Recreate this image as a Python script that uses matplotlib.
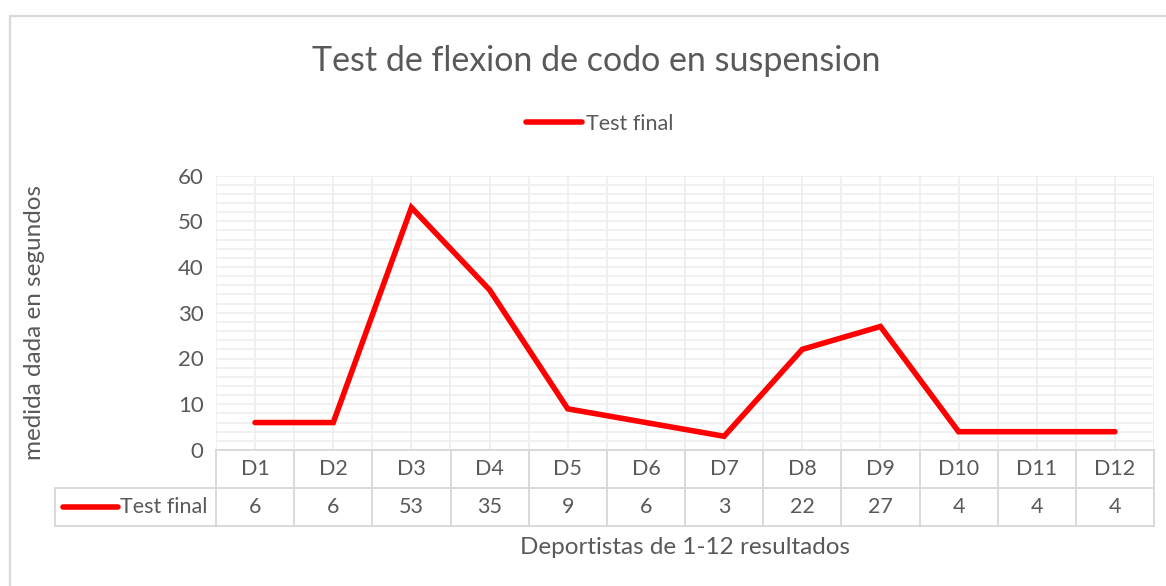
import matplotlib
matplotlib.use('Agg')
import matplotlib.pyplot as plt
from matplotlib.lines import Line2D
from matplotlib.patches import Rectangle

# data
deportistas = ['D1', 'D2', 'D3', 'D4', 'D5', 'D6', 'D7', 'D8', 'D9', 'D10', 'D11', 'D12']
test_final = [6, 6, 53, 35, 9, 6, 3, 22, 27, 4, 4, 4]
yticks = [0, 10, 20, 30, 40, 50, 60]

plt.rcParams['font.family'] = ['Lato', 'DejaVu Sans']
txt = '#595959'
grid = '#eeeeee'
border = '#d9d9d9'
red = '#ff0000'

W, H = 1166, 586
fig = plt.figure(figsize=(W / 100, H / 100), dpi=100)

def px(l, t, r, b):
    return [l / W, 1 - b / H, (r - l) / W, (b - t) / H]

# outer chart border
fig.add_artist(Rectangle((10 / W, -0.01), 1.1, 1 - 16 / H + 0.01, transform=fig.transFigure,
                         fill=False, edgecolor=border, lw=1.6))

ax = fig.add_axes(px(216, 175.5, 1154, 450))
n = len(deportistas)
xs = list(range(n))
ax.set_xlim(-0.5, n - 0.5)
ax.set_ylim(0, 60)

# gridlines: horizontal every 2, vertical at centres and boundaries
for v in range(2, 61, 2):
    ax.axhline(v, color=grid, lw=1.2, zorder=0)
for i in range(n):
    ax.axvline(i, color=grid, lw=1.2, zorder=0)
    ax.axvline(i - 0.5, color=grid, lw=1.2, zorder=0)
ax.axvline(n - 0.5, color=grid, lw=1.2, zorder=0)

ax.plot(xs, test_final, color=red, lw=4, solid_capstyle='round', solid_joinstyle='miter', zorder=3)

for s in ax.spines.values():
    s.set_visible(False)
ax.set_xticks([])
ax.set_yticks(yticks)
ax.set_yticklabels([str(t) for t in yticks], fontsize=16, color=txt)
ax.tick_params(axis='y', length=0, pad=9)

# data table under the plot
tab = fig.add_axes(px(55, 450, 1154, 526))
cw = (1154 - 216) / n
left = -0.5 - (216 - 55) / cw
tab.set_xlim(left, n - 0.5)
tab.set_ylim(0, 2)
tab.axis('off')
tab.plot([-0.5, n - 0.5], [2, 2], color=border, lw=1.4, clip_on=False)
tab.plot([left, n - 0.5], [1, 1], color=border, lw=1.4, clip_on=False)
tab.plot([left, n - 0.5], [0, 0], color=border, lw=1.4, clip_on=False)
tab.plot([left, left], [0, 1], color=border, lw=1.4, clip_on=False)
for i in range(n + 1):
    tab.plot([i - 0.5, i - 0.5], [0, 2], color=border, lw=1.4, clip_on=False)
for i in range(n):
    tab.text(i, 1.5, deportistas[i], ha='center', va='center', fontsize=15.5, color=txt)
    tab.text(i, 0.5, str(test_final[i]), ha='center', va='center', fontsize=15.5, color=txt)
tab.plot([left + 0.1, left + 0.8], [0.5, 0.5], color=red, lw=4, solid_capstyle='round', clip_on=False)
tab.text(left + 0.83, 0.5, 'Test final', ha='left', va='center', fontsize=15.5, color=txt)

# title, legend, axis labels
fig.text(596 / W, 1 - 61 / H, 'Test de flexion de codo en suspension', ha='center', va='center',
         fontsize=24.5, color=txt)
leg = fig.legend(handles=[Line2D([], [], color=red, lw=4, solid_capstyle='round')], labels=['Test final'],
                 loc='center', bbox_to_anchor=(600 / W, 1 - 124 / H), frameon=False, fontsize=15.5,
                 handlelength=2.6, handletextpad=0.2)
for t in leg.get_texts():
    t.set_color(txt)
fig.text(685 / W, 1 - 548 / H, 'Deportistas de 1-12 resultados', ha='center', va='center',
         fontsize=17.5, color=txt)
fig.text(35 / W, 1 - 323 / H, 'medida dada en segundos', ha='center', va='center', rotation=90,
         fontsize=17.5, color=txt)

fig.savefig('out.png', dpi=100, facecolor='white')
